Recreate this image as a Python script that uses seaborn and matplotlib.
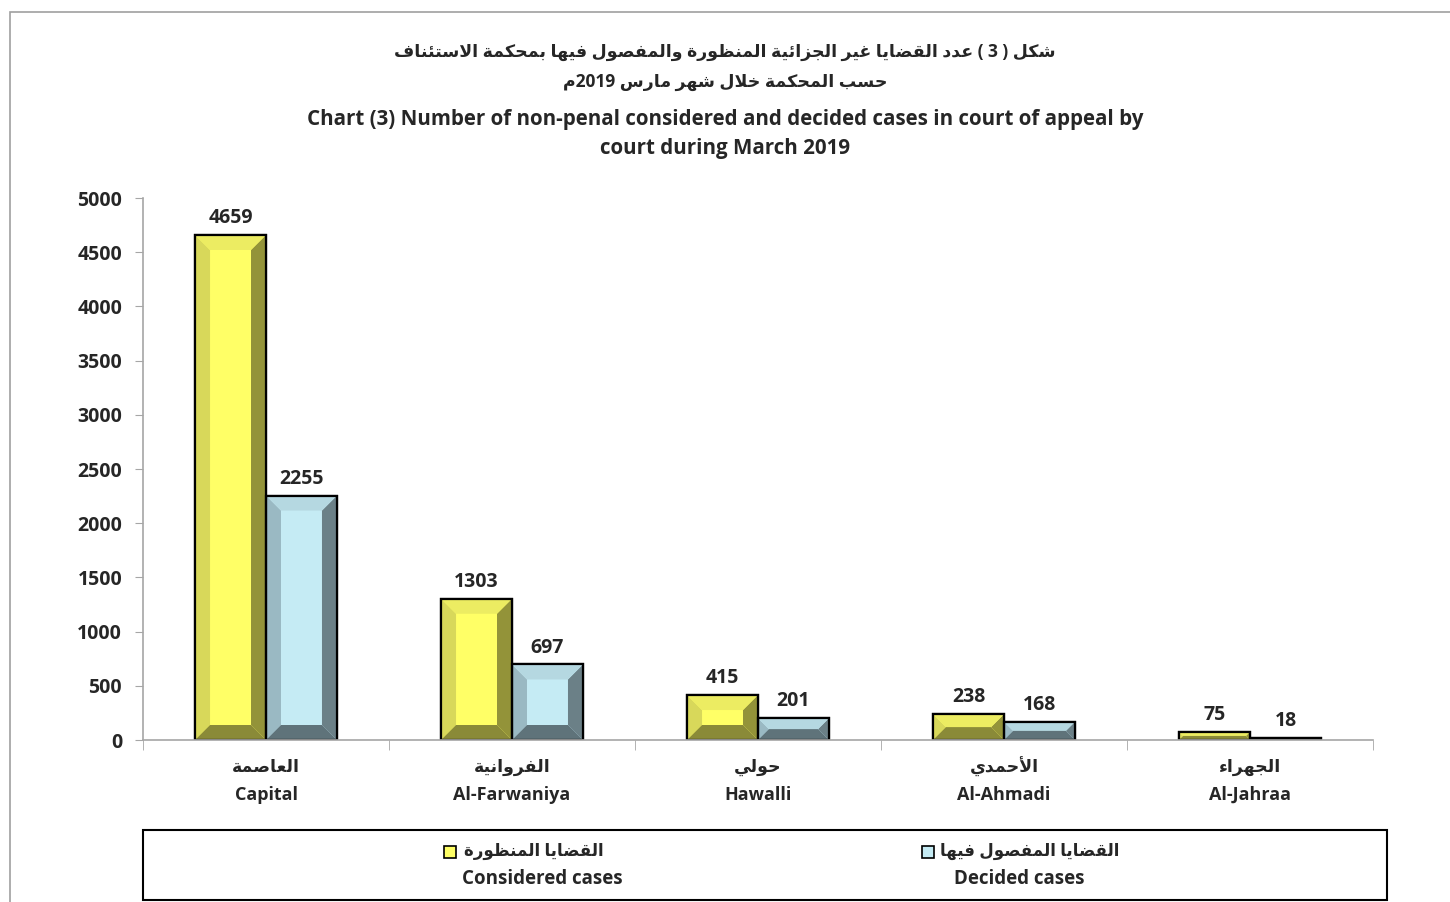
import re

import matplotlib
matplotlib.use('Agg')
import matplotlib.pyplot as plt
from matplotlib.patches import Polygon, Rectangle
import numpy as np
import pandas as pd
import seaborn as sns

# data
courts_ar = ['العاصمة', 'الفروانية', 'حولي', 'الأحمدي', 'الجهراء']
courts_en = ['Capital', 'Al-Farwaniya', 'Hawalli', 'Al-Ahmadi', 'Al-Jahraa']
considered = [4659, 1303, 415, 238, 75]
decided = [2255, 697, 201, 168, 18]
series_ar = ['القضايا المنظورة', 'القضايا المفصول فيها']
series_en = ['Considered cases', 'Decided cases']
title_ar = ['شكل ( 3 ) عدد القضايا غير الجزائية المنظورة والمفصول فيها بمحكمة الاستئناف',
            'حسب المحكمة خلال شهر مارس 2019م']
title_en = ('Chart (3) Number of non-penal considered and decided cases in court of appeal by\n'
            'court during March 2019')

# colours: face, left, right, top, bottom bevels
YELLOW = ['#FFFF66', '#D8D85A', '#939339', '#ECEC62', '#8A8A38']
BLUE = ['#C5EBF4', '#9AB9C3', '#6B8087', '#B5D8E1', '#5F737A']

# --- minimal Arabic shaping + visual ordering (matplotlib has no bidi) ---
DUAL = {'ئ': 0xFE89, 'ب': 0xFE8F, 'ت': 0xFE95, 'ث': 0xFE99, 'ج': 0xFE9D, 'ح': 0xFEA1,
        'خ': 0xFEA5, 'س': 0xFEB1, 'ش': 0xFEB5, 'ص': 0xFEB9, 'ض': 0xFEBD, 'ط': 0xFEC1,
        'ظ': 0xFEC5, 'ع': 0xFEC9, 'غ': 0xFECD, 'ف': 0xFED1, 'ق': 0xFED5, 'ك': 0xFED9,
        'ل': 0xFEDD, 'م': 0xFEE1, 'ن': 0xFEE5, 'ه': 0xFEE9, 'ي': 0xFEF1}
RIGHT = {'آ': 0xFE81, 'أ': 0xFE83, 'ؤ': 0xFE85, 'إ': 0xFE87, 'ا': 0xFE8D, 'ة': 0xFE93,
         'د': 0xFEA9, 'ذ': 0xFEAB, 'ر': 0xFEAD, 'ز': 0xFEAF, 'و': 0xFEED, 'ى': 0xFEEF}
LAM_ALEF = {'آ': 0xFEF5, 'أ': 0xFEF7, 'إ': 0xFEF9, 'ا': 0xFEFB}
MIRROR = {'(': ')', ')': '('}


def ar(text):
    units = []
    i = 0
    while i < len(text):
        ch = text[i]
        nxt = text[i + 1] if i + 1 < len(text) else ''
        if ch == 'ل' and nxt in LAM_ALEF:
            units.append(('R', LAM_ALEF[nxt]))
            i += 2
            continue
        if ch in DUAL:
            units.append(('D', DUAL[ch]))
        elif ch in RIGHT:
            units.append(('R', RIGHT[ch]))
        elif ch == 'ء':
            units.append(('N', 0xFE80))
        else:
            units.append(('X', ch))
        i += 1
    out = []
    for j, (kind, base) in enumerate(units):
        if kind == 'X':
            out.append(base)
            continue
        if kind == 'N':
            out.append(chr(base))
            continue
        prev = j > 0 and units[j - 1][0] == 'D'
        nxt = kind == 'D' and j + 1 < len(units) and units[j + 1][0] in 'DR'
        if kind == 'R':
            out.append(chr(base + (1 if prev else 0)))
        else:
            form = 3 if (prev and nxt) else 1 if prev else 2 if nxt else 0
            out.append(chr(base + form))
    shaped = ''.join(out)
    tokens = re.findall(r'[0-9A-Za-z.]+|.', shaped)
    return ''.join(MIRROR.get(t, t) for t in reversed(tokens))


sns.set_style('white')
plt.rcParams['font.family'] = ['Open Sans', 'DejaVu Sans']
plt.rcParams['font.weight'] = 'bold'

W, H = 1450, 902
fig = plt.figure(figsize=(W / 100, H / 100), dpi=100)
ax = fig.add_axes([143 / W, 1 - 740 / H, (1373 - 143) / W, (740 - 198) / H])

df = pd.DataFrame({
    'court': courts_en * 2,
    'type': [series_en[0]] * len(courts_en) + [series_en[1]] * len(courts_en),
    'cases': considered + decided,
})
sns.barplot(data=df, x='court', y='cases', hue='type', order=courts_en, hue_order=series_en,
            palette=[YELLOW[0], BLUE[0]], saturation=1, width=0.577, edgecolor='black',
            linewidth=1.6, legend=False, ax=ax)

ax.set_xlim(-0.5, len(courts_en) - 0.5)
ax.set_ylim(0, 5000)
ax.set_yticks(np.arange(0, 5001, 500))
ax.set_xlabel('')
ax.set_ylabel('')

# bevel effect on each bar
to_px = ax.transData
to_data = ax.transData.inverted()
for i, p in enumerate(ax.patches):
    cols = YELLOW if i < len(courts_en) else BLUE
    (x0, y0), (x1, y1) = to_px.transform([(p.get_x(), 0), (p.get_x() + p.get_width(), p.get_height())])
    b = min(15, (y1 - y0) / 2, (x1 - x0) / 2)
    polys = [
        ([(x0, y0), (x0 + b, y0 + b), (x0 + b, y1 - b), (x0, y1)], cols[1]),
        ([(x1, y0), (x1 - b, y0 + b), (x1 - b, y1 - b), (x1, y1)], cols[2]),
        ([(x0, y1), (x0 + b, y1 - b), (x1 - b, y1 - b), (x1, y1)], cols[3]),
        ([(x0, y0), (x0 + b, y0 + b), (x1 - b, y0 + b), (x1, y0)], cols[4]),
    ]
    for pts, c in polys:
        ax.add_patch(Polygon(to_data.transform(pts), closed=True, facecolor=c,
                             edgecolor='none', zorder=p.get_zorder() + 0.1))
    ax.add_patch(Rectangle((p.get_x(), 0), p.get_width(), p.get_height(), facecolor='none',
                           edgecolor='black', linewidth=1.6, zorder=p.get_zorder() + 0.2))

for cont in ax.containers:
    ax.bar_label(cont, padding=5, fontsize=14, fontweight='bold')

# axes styling
for s in ['top', 'right']:
    ax.spines[s].set_visible(False)
for s in ['left', 'bottom']:
    ax.spines[s].set_color('#A6A6A6')
    ax.spines[s].set_linewidth(1.2)
ax.tick_params(axis='y', length=6, color='#A6A6A6', labelsize=14, pad=9, left=True)
for lab in ax.get_yticklabels():
    lab.set_fontweight('bold')
ax.set_xticks(np.arange(-0.5, len(courts_en)), minor=True)
ax.tick_params(axis='x', which='minor', length=7, color='#A6A6A6', bottom=True)
ax.set_xticks(range(len(courts_en)))
ax.set_xticklabels([])
ax.tick_params(axis='x', which='major', length=0)
for i, (a, e) in enumerate(zip(courts_ar, courts_en)):
    ax.annotate(ar(a), (i, 0), xycoords=('data', 'axes fraction'), xytext=(0, -27),
                textcoords='offset pixels', ha='center', va='center', fontsize=12.5,
                fontweight='bold')
    ax.annotate(e, (i, 0), xycoords=('data', 'axes fraction'), xytext=(0, -55),
                textcoords='offset pixels', ha='center', va='center', fontsize=13,
                fontweight='bold')

# titles
fig.text(0.5, 1 - 52 / H, ar(title_ar[0]), ha='center', va='center', fontsize=12.5, fontweight='bold')
fig.text(0.5, 1 - 82 / H, ar(title_ar[1]), ha='center', va='center', fontsize=12.5, fontweight='bold')
fig.text(0.5, 1 - 134 / H, title_en, ha='center', va='center', fontsize=14.8, fontweight='bold',
         linespacing=1.5)

# legend box
fig.patches.append(Rectangle((143 / W, 1 - 900 / H), 1244 / W, 70 / H, transform=fig.transFigure,
                             facecolor='white', edgecolor='black', linewidth=1.5))
for (mx, tx, ex), cols, s_ar, s_en in zip([(444, 464, 542), (922, 940, 1019)], [YELLOW, BLUE],
                                          series_ar, series_en):
    fig.patches.append(Rectangle((mx / W, 1 - 858 / H), 12 / W, 12 / H, transform=fig.transFigure,
                                 facecolor=cols[0], edgecolor='black', linewidth=1.2))
    fig.text(tx / W, 1 - 851 / H, ar(s_ar), ha='left', va='center', fontsize=12, fontweight='bold')
    fig.text(ex / W, 1 - 879 / H, s_en, ha='center', va='center', fontsize=13.5, fontweight='bold')

# outer chart-area frame
fig.patches.append(Rectangle((10 / W, -0.1), 1.2, 1.1 - 12 / H, transform=fig.transFigure,
                             facecolor='none', edgecolor='#A0A0A0', linewidth=1.2, zorder=-1))

fig.savefig('out.png', dpi=100)
